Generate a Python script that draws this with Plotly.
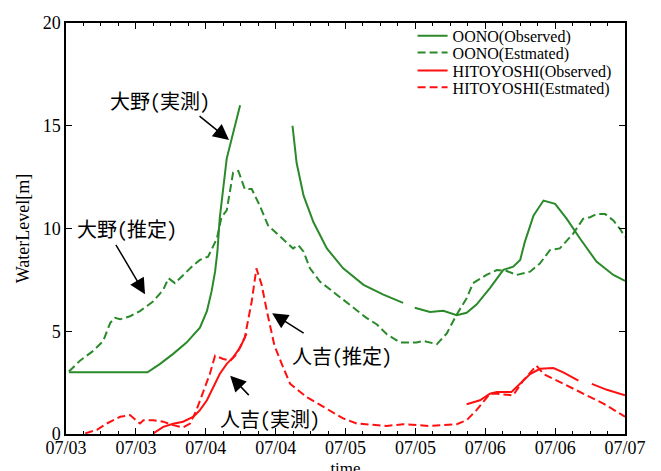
import plotly.graph_objects as go

# time in hours from 07/03 00:00
oono_obs_t = [0.5, 14, 16.1, 18.4, 20.7, 23, 24.2, 25, 25.6, 26, 26.4, 27.6, 29.9, 34,
              38.9, 39.6, 40.8, 42.5, 44.8, 47.6, 51.1, 54.5, 57.9, 59,
              59.9, 62.5, 64.8, 67.1, 68.8, 70.5, 72.8, 75.1, 76.8, 78, 78.8, 80.3, 82, 84, 86, 88.3, 91.1, 94, 96]
oono_obs_v = [3.0, 3.0, 3.4, 3.9, 4.45, 5.17, 5.98, 6.94, 7.9, 8.87, 10.5, 13.4, 16.0, None,
              15.0, 13.2, 11.6, 10.3, 9.03, 8.06, 7.26, 6.78, 6.38, None,
              6.14, 5.94, 6.0, 5.78, 5.9, 6.3, 7.1, 7.99, 8.14, 8.47, 9.35, 10.63, 11.36, 11.2, 10.47, 9.5, 8.39, 7.74, 7.45]

oono_est_t = [0.5, 2.4, 4.7, 6.4, 7.6, 8.4, 9.3, 11, 12.7, 15, 16.7, 17.6, 18.7, 20.1, 21.9, 23, 24.4, 25.9,
              26.7, 27.6, 28.7, 29.6, 30.7, 31.9, 33.3, 34.7, 36.5, 39, 39.9, 40.8, 41.9, 43.6, 46.5, 49.3,
              51.6, 53.4, 55.1, 57.4, 60.2, 61.4, 63.7, 65.4, 67.1, 68.8, 69.9, 72.2, 74, 75.7, 77.4, 79.7,
              81.4, 83.1, 84.8, 87.1, 88.8, 90, 91.1, 92.6, 94, 95.1, 96]
oono_est_v = [3.04, 3.57, 4.05, 4.53, 5.41, 5.65, 5.58, 5.73, 5.98, 6.46, 7.02, 7.58, 7.34, 7.74, 8.22, 8.47, 8.63, 9.5,
              10.55, 10.88, 12.72, 12.8, 11.92, 11.92, 11.1, 10.15, 9.67, 9.03, 9.19, 8.87, 8.06, 7.42, 6.78, 6.14,
              5.65, 5.33, 4.85, 4.45, 4.45, 4.53, 4.37, 4.9, 5.82, 6.6, 7.34, 7.74, 7.98, 7.93, 7.74, 7.9,
              8.3, 8.95, 9.03, 9.75, 10.47, 10.55, 10.7, 10.7, 10.39, 10.0, 9.59]

hito_obs_t = [15, 16.7, 18.4, 20.1, 21.9, 23, 24.2, 25.3, 26.4, 27.6, 28.7, 29.9, 31, 50,
              68.8, 71.1, 72.8, 74, 76.5, 78, 79.7, 81.4, 83.7, 85.4, 88, 89,
              90.3, 92.9, 96]
hito_obs_v = [0.03, 0.35, 0.5, 0.6, 0.84, 1.16, 1.64, 2.28, 2.92, 3.41, 3.73, 4.21, 4.87, None,
              1.45, 1.64, 1.96, 2.04, 2.04, 2.44, 2.92, 3.17, 3.21, 3.0, 2.6, None,
              2.44, 2.15, 1.88]

hito_est_t = [3.3, 5.3, 7, 9.3, 11, 12.1, 12.7, 13.3, 15, 16.7, 18.4, 20.1, 21.3, 22.4, 23.6, 24.7, 25.6, 27,
              28.2, 29.3, 30.7, 31.9, 32.7, 33.6, 34.5, 35.8, 37.3, 38.5, 41.3, 45.3, 47.6, 49.9, 55.1, 57.9,
              62.5, 67.1, 68.8, 70.5, 72.8, 74, 76.8, 78.5, 80.8, 82, 85.4, 88.8, 92.3, 96]
hito_est_v = [0.03, 0.2, 0.51, 0.84, 0.92, 0.67, 0.51, 0.67, 0.67, 0.6, 0.43, 0.32, 0.51, 1.16, 2.12, 2.92, 3.81, 3.65,
              3.57, 3.89, 4.69, 6.46, 8.06, 7.26, 5.98, 4.3, 3.24, 2.44, 1.8, 1.16, 0.76, 0.51, 0.39, 0.48,
              0.39, 0.48, 0.67, 1.16, 1.96, 1.96, 1.88, 2.6, 3.33, 2.92, 2.44, 1.96, 1.48, 0.84]

tick_hours = [0, 12, 24, 36, 48, 60, 72, 84, 96]
tick_labels = ["07/03", "07/03", "07/04", "07/04", "07/05", "07/05", "07/06", "07/06", "07/07"]

GREEN = "#2a8a2a"
RED = "#ff1010"
DASH = "8px,4px"

serif = "Liberation Serif, Times New Roman, serif"
cjk = "Noto Sans Mono CJK JP, Noto Sans CJK JP, sans-serif"

fig = go.Figure()
fig.add_trace(go.Scatter(x=oono_obs_t, y=oono_obs_v, mode="lines", name="OONO(Observed)",
                         line=dict(color=GREEN, width=2), connectgaps=False, legend="legend"))
fig.add_trace(go.Scatter(x=oono_est_t, y=oono_est_v, mode="lines", name="OONO(Estmated)",
                         line=dict(color=GREEN, width=2, dash=DASH), legend="legend2"))
fig.add_trace(go.Scatter(x=hito_obs_t, y=hito_obs_v, mode="lines", name="HITOYOSHI(Observed)",
                         line=dict(color=RED, width=2), connectgaps=False, legend="legend3"))
fig.add_trace(go.Scatter(x=hito_est_t, y=hito_est_v, mode="lines", name="HITOYOSHI(Estmated)",
                         line=dict(color=RED, width=2, dash=DASH), legend="legend4"))

texts = [
    ("大野(実測)", 16.14, 16.24),
    ("大野(推定)", 10.5, 9.98),
    ("人吉(推定)", 47.4, 3.81),
    ("人吉(実測)", 35.0, 0.77),
]
for t, x, y in texts:
    fig.add_annotation(x=x, y=y, text=t, showarrow=False, font=dict(family=cjk, size=20, color="black"))

arrows = [
    (28.0, 14.31, -31, -25),
    (13.57, 6.80, -30, -51),
    (35.4, 5.88, 33, 21),
    (28.2, 2.84, 20, 21),
]
for x, y, ax, ay in arrows:
    fig.add_annotation(x=x, y=y, ax=ax, ay=ay, text="", showarrow=True,
                       arrowhead=2, arrowsize=2.1, arrowwidth=1.5, arrowcolor="black")

leg_common = dict(xanchor="left", yanchor="middle", bgcolor="rgba(0,0,0,0)",
                  font=dict(family=serif, size=16), borderwidth=0)
leg_x = 0.62
leg_rows = [0.9687, 0.9277, 0.8843, 0.8434]

fig.update_layout(
    width=661, height=471,
    margin=dict(l=58, r=44, t=11, b=45),
    plot_bgcolor="white", paper_bgcolor="white",
    font=dict(family=serif, size=18, color="black"),
    showlegend=True,
    legend=dict(x=leg_x, y=leg_rows[0], **leg_common),
    legend2=dict(x=leg_x, y=leg_rows[1], **leg_common),
    legend3=dict(x=leg_x, y=leg_rows[2], **leg_common),
    legend4=dict(x=leg_x, y=leg_rows[3], **leg_common),
)
fig.update_xaxes(
    range=[0, 96], tickvals=tick_hours, ticktext=tick_labels, automargin=False,
    showline=True, linecolor="black", linewidth=1.5, mirror="ticks",
    ticks="inside", ticklen=6, tickcolor="black", showgrid=False, zeroline=False,
    minor=dict(dtick=3, ticks="inside", ticklen=3, tickcolor="black", showgrid=False),
    ticklabelstandoff=-3,
    title=dict(text="time", standoff=5, font=dict(family=serif, size=17)),
    tickfont=dict(family=serif, size=18),
)
fig.update_yaxes(
    range=[0, 20], tickvals=[0, 5, 10, 15, 20], automargin=False,
    showline=True, linecolor="black", linewidth=1.5, mirror="ticks",
    ticks="inside", ticklen=6, tickcolor="black", showgrid=False, zeroline=False,
    ticklabelstandoff=0,
    title=dict(text="WaterLevel[m]", standoff=8, font=dict(family=serif, size=18)),
    tickfont=dict(family=serif, size=18),
)

fig.write_html("out.html")
